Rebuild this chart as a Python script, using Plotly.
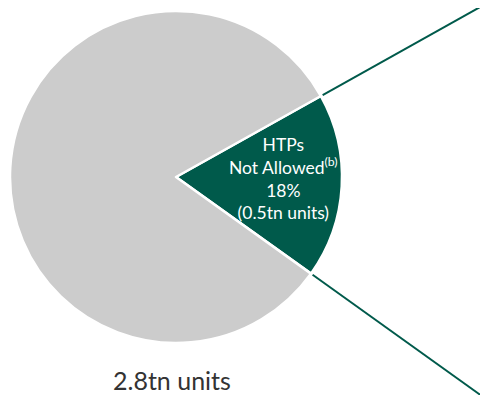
import math
import plotly.graph_objects as go

labels = ["HTPs Not Allowed", "Other"]
values = [18, 82]
colors = ["#005a4b", "#cccccc"]
inner_label = "HTPs<br>Not Allowed<sup>(b)</sup><br>18%<br>(0.5tn units)"
total_label = "2.8tn units"

OFF = 8  # default page body margin
W, H = 488 - OFF, 403 - 2 * OFF
top = OFF  # page y of figure top


def py(page_y):
    """page y (from top) -> paper fraction"""
    return (H - (page_y - top)) / H


def pxf(page_x):
    return (page_x - OFF) / W


cx_p, cy_p, R = 176, 177, 166  # pie center in page px, radius
start_compass = 60.8  # degrees clockwise from 12 o'clock

fig = go.Figure(go.Pie(
    labels=labels, values=values, sort=False, direction="clockwise",
    rotation=start_compass,
    marker=dict(colors=colors, line=dict(color="white", width=2.5)),
    textinfo="none", hoverinfo="skip", showlegend=False,
    domain=dict(x=[pxf(cx_p - R), pxf(cx_p + R)], y=[py(cy_p + R), py(cy_p - R)]),
))

# connector lines continuing the green slice edges
frac = values[0] / sum(values)
a1 = math.radians(90 - start_compass)
a2 = math.radians(90 - start_compass - frac * 360)
shapes = []
for a in (a1, a2):
    r0 = R + 2
    x0, y0 = cx_p + r0 * math.cos(a), cy_p - r0 * math.sin(a)
    t = (488 - x0) / math.cos(a)
    x1, y1 = 488, y0 - t * math.sin(a)
    shapes.append(dict(type="line", xref="paper", yref="paper",
                       x0=pxf(x0), y0=py(y0), x1=pxf(x1), y1=py(y1),
                       line=dict(color="#005a4b", width=2)))

fig.update_layout(
    width=W, height=H, margin=dict(l=0, r=0, t=0, b=0),
    paper_bgcolor="white", plot_bgcolor="white",
    font=dict(family="Lato", color="#333333"),
    shapes=shapes,
    annotations=[
        dict(text=inner_label, x=pxf(283), y=py(178), xref="paper", yref="paper",
             xanchor="center", yanchor="middle",
             showarrow=False, font=dict(size=17.5, color="white", family="Lato"),
             align="center"),
        dict(text=total_label, x=pxf(172), y=py(380), xref="paper", yref="paper",
             xanchor="center", yanchor="middle",
             showarrow=False, font=dict(size=25, color="#333333", family="Lato")),
    ],
)
fig.write_html("out.html")
